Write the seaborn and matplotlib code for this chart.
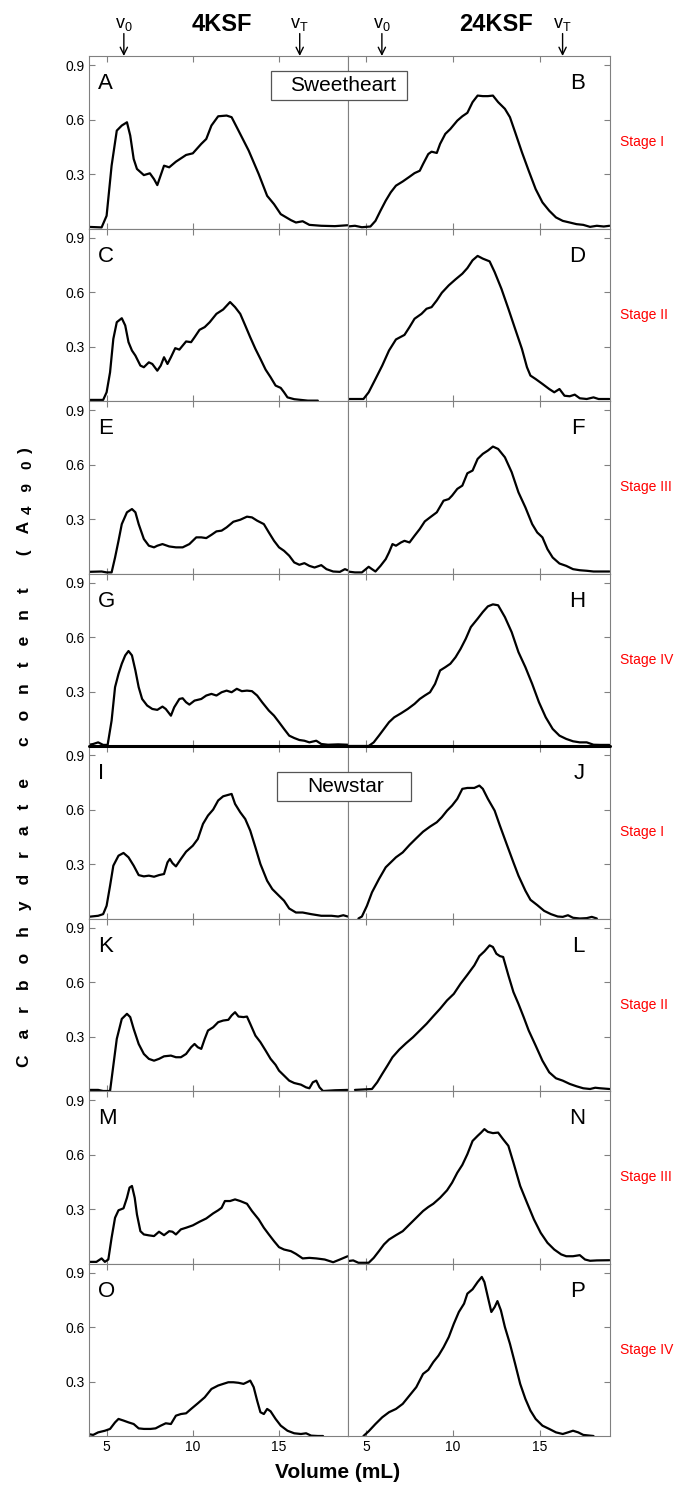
import matplotlib
matplotlib.use("Agg")
import matplotlib.pyplot as plt
import pandas as pd
import seaborn as sns
from matplotlib.patches import Rectangle
from matplotlib.lines import Line2D

# ---------------- data (elution volume, mL / absorbance A490) ----------------
A_vol = [3.92, 4.71, 5.0, 5.29, 5.59, 5.88, 6.18, 6.37, 6.57, 6.76, 7.16, 7.51, 7.75, 7.94, 8.33, 8.63, 9.02, 9.61, 10.0, 10.49, 10.78, 11.08, 11.47, 11.96, 12.25, 12.65, 13.24, 13.82, 14.31, 14.71, 15.1, 15.69, 15.98, 16.37, 16.76, 17.45, 18.24, 18.98]
A_abs = [0.009, 0.006, 0.07, 0.346, 0.539, 0.567, 0.585, 0.512, 0.383, 0.328, 0.294, 0.304, 0.272, 0.239, 0.346, 0.337, 0.368, 0.405, 0.414, 0.466, 0.493, 0.567, 0.618, 0.622, 0.613, 0.539, 0.429, 0.30, 0.18, 0.134, 0.079, 0.046, 0.033, 0.040, 0.020, 0.015, 0.013, 0.018]

B_vol = [3.92, 4.35, 4.75, 5.24, 5.53, 5.82, 6.12, 6.41, 6.71, 7.10, 7.49, 7.78, 8.08, 8.27, 8.57, 8.76, 9.06, 9.25, 9.55, 9.84, 10.24, 10.53, 10.82, 11.12, 11.41, 11.71, 12.0, 12.29, 12.59, 12.98, 13.27, 13.57, 13.96, 14.35, 14.75, 15.14, 15.53, 15.92, 16.31, 16.71, 17.10, 17.49, 17.88, 18.27, 18.67, 19.0]
B_abs = [0.011, 0.015, 0.007, 0.011, 0.042, 0.098, 0.153, 0.199, 0.236, 0.259, 0.285, 0.305, 0.318, 0.355, 0.410, 0.423, 0.416, 0.466, 0.521, 0.548, 0.594, 0.618, 0.637, 0.696, 0.732, 0.729, 0.729, 0.732, 0.696, 0.659, 0.613, 0.530, 0.420, 0.318, 0.217, 0.144, 0.098, 0.061, 0.042, 0.033, 0.024, 0.020, 0.009, 0.015, 0.011, 0.015]

C_vol = [3.92, 4.80, 5.0, 5.20, 5.39, 5.59, 5.88, 6.08, 6.27, 6.47, 6.67, 6.96, 7.16, 7.45, 7.65, 7.94, 8.14, 8.33, 8.53, 8.73, 8.98, 9.22, 9.41, 9.61, 9.90, 10.10, 10.39, 10.69, 10.98, 11.37, 11.76, 12.16, 12.45, 12.75, 13.04, 13.33, 13.63, 13.92, 14.22, 14.51, 14.80, 15.10, 15.29, 15.49, 15.88, 16.27, 16.67, 17.25]
C_abs = [0.006, 0.006, 0.048, 0.158, 0.342, 0.434, 0.456, 0.416, 0.324, 0.278, 0.250, 0.195, 0.186, 0.213, 0.204, 0.167, 0.195, 0.241, 0.204, 0.241, 0.291, 0.283, 0.305, 0.328, 0.324, 0.351, 0.392, 0.407, 0.434, 0.480, 0.504, 0.545, 0.517, 0.480, 0.416, 0.351, 0.287, 0.232, 0.173, 0.131, 0.085, 0.072, 0.048, 0.020, 0.010, 0.006, 0.002, 0.002]

D_vol = [3.92, 4.35, 4.84, 5.14, 5.53, 5.92, 6.31, 6.71, 7.20, 7.49, 7.78, 8.18, 8.47, 8.76, 9.06, 9.35, 9.75, 10.14, 10.53, 10.82, 11.12, 11.41, 11.71, 12.10, 12.39, 12.78, 13.18, 13.57, 13.96, 14.25, 14.45, 14.75, 15.14, 15.53, 15.82, 16.12, 16.41, 16.71, 17.0, 17.29, 17.69, 18.08, 18.37, 18.67, 19.0]
D_abs = [0.011, 0.011, 0.011, 0.048, 0.121, 0.195, 0.278, 0.339, 0.364, 0.407, 0.453, 0.480, 0.508, 0.517, 0.554, 0.596, 0.637, 0.670, 0.701, 0.732, 0.775, 0.799, 0.784, 0.769, 0.710, 0.618, 0.508, 0.397, 0.287, 0.186, 0.140, 0.121, 0.094, 0.066, 0.048, 0.066, 0.029, 0.026, 0.035, 0.015, 0.011, 0.020, 0.011, 0.011, 0.011]

E_vol = [3.92, 4.71, 5.0, 5.29, 5.49, 5.69, 5.88, 6.18, 6.47, 6.67, 6.86, 7.16, 7.45, 7.75, 7.94, 8.24, 8.63, 9.02, 9.41, 9.80, 10.20, 10.49, 10.78, 11.08, 11.37, 11.67, 11.96, 12.35, 12.75, 13.14, 13.43, 13.73, 14.12, 14.41, 14.71, 15.0, 15.29, 15.59, 15.88, 16.18, 16.47, 16.76, 17.06, 17.45, 17.75, 18.14, 18.53, 18.82, 18.98]
E_abs = [0.009, 0.011, 0.006, 0.006, 0.088, 0.180, 0.272, 0.337, 0.355, 0.337, 0.272, 0.190, 0.153, 0.144, 0.153, 0.162, 0.149, 0.144, 0.144, 0.162, 0.199, 0.199, 0.195, 0.213, 0.232, 0.236, 0.254, 0.285, 0.296, 0.313, 0.309, 0.291, 0.272, 0.226, 0.180, 0.144, 0.125, 0.098, 0.061, 0.048, 0.057, 0.042, 0.033, 0.046, 0.024, 0.011, 0.009, 0.024, 0.018]

F_vol = [3.92, 4.35, 4.75, 5.14, 5.33, 5.53, 5.82, 6.12, 6.31, 6.51, 6.71, 7.0, 7.20, 7.49, 7.78, 8.08, 8.37, 8.67, 9.06, 9.45, 9.75, 9.94, 10.24, 10.53, 10.82, 11.12, 11.41, 11.71, 12.0, 12.29, 12.59, 12.98, 13.37, 13.76, 14.16, 14.55, 14.84, 15.14, 15.43, 15.73, 16.12, 16.51, 16.90, 17.29, 17.69, 18.08, 18.47, 19.0]
F_abs = [0.011, 0.006, 0.006, 0.037, 0.024, 0.011, 0.042, 0.079, 0.116, 0.162, 0.153, 0.171, 0.180, 0.171, 0.208, 0.245, 0.287, 0.309, 0.337, 0.401, 0.410, 0.429, 0.466, 0.484, 0.552, 0.567, 0.631, 0.659, 0.677, 0.699, 0.686, 0.640, 0.558, 0.447, 0.364, 0.272, 0.226, 0.199, 0.134, 0.088, 0.055, 0.042, 0.024, 0.018, 0.015, 0.011, 0.011, 0.011]

G_vol = [3.92, 4.22, 4.51, 4.80, 5.06, 5.29, 5.49, 5.69, 5.88, 6.08, 6.27, 6.47, 6.67, 6.86, 7.06, 7.35, 7.65, 7.94, 8.24, 8.43, 8.73, 8.92, 9.22, 9.41, 9.61, 9.80, 10.10, 10.49, 10.78, 11.08, 11.37, 11.67, 11.96, 12.25, 12.55, 12.84, 13.14, 13.43, 13.73, 14.02, 14.41, 14.71, 15.0, 15.29, 15.59, 15.88, 16.18, 16.47, 16.76, 17.16, 17.45, 17.84, 18.43, 18.98]
G_abs = [0.006, 0.011, 0.020, 0.006, 0.006, 0.140, 0.324, 0.397, 0.453, 0.499, 0.523, 0.499, 0.416, 0.324, 0.259, 0.223, 0.204, 0.199, 0.217, 0.204, 0.167, 0.213, 0.259, 0.263, 0.241, 0.228, 0.250, 0.259, 0.278, 0.287, 0.278, 0.296, 0.305, 0.296, 0.315, 0.302, 0.305, 0.302, 0.278, 0.241, 0.195, 0.167, 0.131, 0.094, 0.057, 0.044, 0.033, 0.029, 0.020, 0.029, 0.011, 0.007, 0.009, 0.007]

H_vol = [3.92, 4.35, 5.14, 5.43, 5.73, 6.02, 6.31, 6.61, 7.0, 7.39, 7.78, 8.08, 8.37, 8.67, 8.96, 9.25, 9.55, 9.84, 10.14, 10.43, 10.73, 11.02, 11.41, 11.71, 12.0, 12.29, 12.59, 12.98, 13.37, 13.76, 14.16, 14.55, 14.94, 15.33, 15.73, 16.12, 16.51, 16.90, 17.29, 17.69, 18.08, 18.47, 19.0]
H_abs = [0.0, 0.0, 0.0, 0.020, 0.057, 0.094, 0.131, 0.158, 0.180, 0.204, 0.232, 0.259, 0.278, 0.296, 0.342, 0.416, 0.434, 0.453, 0.489, 0.535, 0.591, 0.655, 0.701, 0.738, 0.769, 0.780, 0.775, 0.710, 0.627, 0.517, 0.434, 0.342, 0.241, 0.158, 0.094, 0.057, 0.039, 0.026, 0.020, 0.020, 0.007, 0.006, 0.006]

I_vol = [3.92, 4.51, 4.80, 5.0, 5.20, 5.39, 5.69, 5.98, 6.27, 6.57, 6.86, 7.16, 7.45, 7.75, 8.04, 8.33, 8.53, 8.67, 8.82, 9.02, 9.31, 9.61, 10.0, 10.29, 10.59, 10.88, 11.18, 11.47, 11.76, 12.06, 12.25, 12.45, 12.75, 13.04, 13.33, 13.63, 13.92, 14.31, 14.61, 15.0, 15.29, 15.59, 15.98, 16.37, 16.86, 17.45, 18.04, 18.43, 18.73, 18.98]
I_abs = [0.009, 0.015, 0.024, 0.070, 0.180, 0.291, 0.346, 0.361, 0.337, 0.291, 0.239, 0.232, 0.236, 0.230, 0.239, 0.245, 0.309, 0.328, 0.305, 0.287, 0.328, 0.368, 0.401, 0.438, 0.521, 0.567, 0.600, 0.650, 0.673, 0.681, 0.686, 0.631, 0.585, 0.548, 0.484, 0.392, 0.300, 0.208, 0.162, 0.125, 0.098, 0.055, 0.033, 0.033, 0.024, 0.015, 0.015, 0.011, 0.018, 0.011]

J_vol = [4.55, 4.75, 5.04, 5.33, 5.73, 6.12, 6.41, 6.71, 7.10, 7.49, 7.88, 8.27, 8.67, 9.06, 9.35, 9.65, 9.94, 10.24, 10.53, 10.82, 11.22, 11.51, 11.71, 12.0, 12.39, 12.69, 13.08, 13.47, 13.76, 14.16, 14.45, 14.84, 15.24, 15.63, 16.02, 16.31, 16.61, 16.90, 17.29, 17.69, 17.98, 18.27]
J_abs = [0.0, 0.011, 0.070, 0.144, 0.217, 0.282, 0.309, 0.337, 0.364, 0.405, 0.442, 0.478, 0.506, 0.530, 0.558, 0.594, 0.622, 0.659, 0.714, 0.719, 0.719, 0.732, 0.714, 0.659, 0.594, 0.512, 0.410, 0.309, 0.236, 0.153, 0.103, 0.074, 0.042, 0.024, 0.011, 0.009, 0.018, 0.004, 0.0, 0.002, 0.009, 0.0]

K_vol = [3.92, 4.51, 4.80, 5.20, 5.39, 5.59, 5.88, 6.18, 6.37, 6.57, 6.86, 7.16, 7.45, 7.75, 8.04, 8.33, 8.73, 9.02, 9.31, 9.61, 9.90, 10.10, 10.29, 10.49, 10.69, 10.88, 11.18, 11.47, 11.76, 12.06, 12.25, 12.45, 12.65, 12.94, 13.14, 13.33, 13.63, 13.92, 14.22, 14.51, 14.80, 15.0, 15.29, 15.59, 15.88, 16.27, 16.57, 16.76, 16.96, 17.16, 17.35, 17.55, 18.24, 18.98]
K_abs = [0.006, 0.006, 0.0, 0.0, 0.140, 0.287, 0.397, 0.425, 0.407, 0.342, 0.259, 0.204, 0.177, 0.167, 0.177, 0.191, 0.195, 0.186, 0.186, 0.204, 0.241, 0.259, 0.241, 0.232, 0.287, 0.333, 0.351, 0.379, 0.388, 0.392, 0.416, 0.434, 0.410, 0.407, 0.410, 0.370, 0.305, 0.269, 0.223, 0.177, 0.144, 0.112, 0.085, 0.057, 0.044, 0.035, 0.020, 0.015, 0.048, 0.057, 0.020, 0.0, 0.004, 0.006]

L_vol = [4.35, 5.33, 5.63, 5.92, 6.22, 6.51, 6.90, 7.29, 7.69, 8.08, 8.47, 8.86, 9.25, 9.65, 10.04, 10.43, 10.82, 11.22, 11.51, 11.80, 12.10, 12.29, 12.49, 12.69, 12.88, 13.18, 13.47, 13.76, 14.06, 14.35, 14.75, 15.14, 15.53, 15.92, 16.31, 16.71, 17.10, 17.49, 17.88, 18.18, 18.47, 19.0]
L_abs = [0.006, 0.011, 0.048, 0.094, 0.140, 0.186, 0.228, 0.263, 0.296, 0.333, 0.370, 0.412, 0.453, 0.499, 0.535, 0.591, 0.640, 0.692, 0.743, 0.769, 0.802, 0.793, 0.756, 0.743, 0.738, 0.637, 0.545, 0.480, 0.407, 0.333, 0.250, 0.167, 0.103, 0.070, 0.057, 0.039, 0.026, 0.015, 0.011, 0.018, 0.015, 0.011]

M_vol = [3.92, 4.41, 4.71, 4.90, 5.10, 5.29, 5.49, 5.69, 5.98, 6.18, 6.33, 6.47, 6.63, 6.76, 6.96, 7.16, 7.45, 7.75, 8.04, 8.33, 8.63, 8.82, 9.02, 9.31, 9.61, 10.0, 10.39, 10.78, 11.18, 11.47, 11.67, 11.86, 12.16, 12.45, 12.75, 13.14, 13.43, 13.82, 14.12, 14.41, 14.71, 15.0, 15.29, 15.69, 15.98, 16.37, 16.76, 17.16, 17.65, 18.14, 18.53, 18.98]
M_abs = [0.009, 0.009, 0.028, 0.009, 0.022, 0.142, 0.252, 0.293, 0.304, 0.362, 0.418, 0.427, 0.362, 0.270, 0.178, 0.160, 0.155, 0.151, 0.175, 0.156, 0.178, 0.175, 0.160, 0.188, 0.197, 0.210, 0.230, 0.248, 0.276, 0.293, 0.307, 0.344, 0.344, 0.353, 0.344, 0.329, 0.289, 0.243, 0.197, 0.160, 0.123, 0.090, 0.077, 0.068, 0.053, 0.028, 0.031, 0.028, 0.022, 0.007, 0.022, 0.040]

N_vol = [3.92, 4.25, 4.55, 5.14, 5.43, 5.73, 6.02, 6.31, 6.71, 7.10, 7.49, 7.88, 8.27, 8.57, 8.86, 9.25, 9.65, 9.94, 10.24, 10.53, 10.82, 11.12, 11.41, 11.61, 11.80, 12.0, 12.29, 12.59, 12.88, 13.18, 13.47, 13.86, 14.25, 14.65, 15.04, 15.43, 15.82, 16.22, 16.51, 16.90, 17.29, 17.59, 17.88, 18.27, 19.0]
N_abs = [0.013, 0.017, 0.004, 0.004, 0.031, 0.068, 0.105, 0.132, 0.156, 0.178, 0.215, 0.252, 0.289, 0.311, 0.329, 0.362, 0.403, 0.445, 0.500, 0.543, 0.602, 0.675, 0.703, 0.721, 0.740, 0.725, 0.718, 0.721, 0.684, 0.648, 0.556, 0.427, 0.335, 0.243, 0.169, 0.114, 0.077, 0.050, 0.040, 0.040, 0.046, 0.022, 0.015, 0.017, 0.018]

O_vol = [3.92, 4.22, 4.51, 4.90, 5.20, 5.49, 5.69, 5.98, 6.27, 6.57, 6.86, 7.16, 7.55, 7.84, 8.14, 8.43, 8.73, 9.02, 9.31, 9.61, 9.90, 10.29, 10.69, 11.08, 11.47, 11.76, 12.06, 12.35, 12.65, 12.94, 13.14, 13.33, 13.53, 13.73, 13.92, 14.12, 14.31, 14.51, 14.80, 15.10, 15.49, 15.88, 16.27, 16.57, 16.86, 17.25, 17.55]
O_abs = [0.011, 0.006, 0.020, 0.029, 0.039, 0.075, 0.094, 0.085, 0.075, 0.066, 0.042, 0.039, 0.039, 0.042, 0.057, 0.070, 0.066, 0.112, 0.121, 0.125, 0.149, 0.180, 0.213, 0.259, 0.278, 0.287, 0.296, 0.296, 0.293, 0.287, 0.296, 0.305, 0.269, 0.195, 0.131, 0.121, 0.149, 0.136, 0.094, 0.057, 0.029, 0.015, 0.011, 0.015, 0.002, 0.0, 0.0]

P_vol = [4.84, 5.14, 5.53, 5.92, 6.31, 6.71, 7.10, 7.49, 7.88, 8.27, 8.57, 8.86, 9.16, 9.45, 9.75, 10.04, 10.33, 10.63, 10.82, 11.12, 11.41, 11.65, 11.80, 12.0, 12.20, 12.39, 12.55, 12.75, 12.98, 13.27, 13.57, 13.86, 14.16, 14.45, 14.75, 15.14, 15.53, 15.92, 16.31, 16.61, 16.90, 17.20, 17.49, 18.08]
P_abs = [0.0, 0.026, 0.066, 0.103, 0.131, 0.149, 0.177, 0.223, 0.269, 0.342, 0.364, 0.407, 0.443, 0.489, 0.545, 0.618, 0.683, 0.729, 0.784, 0.808, 0.848, 0.876, 0.848, 0.765, 0.683, 0.710, 0.743, 0.692, 0.600, 0.508, 0.397, 0.287, 0.204, 0.140, 0.094, 0.057, 0.039, 0.020, 0.011, 0.020, 0.029, 0.020, 0.006, 0.0]

panel_letters = list("ABCDEFGHIJKLMNOP")
stage_labels = ["Stage I", "Stage II", "Stage III", "Stage IV", "Stage I", "Stage II", "Stage III", "Stage IV"]
column_titles = ["4KSF", "24KSF"]
cultivars = ["Sweetheart", "Newstar"]
v0_marks = [6.0, 5.9]
vt_marks = [16.2, 16.3]
x_ticks = [5, 10, 15]
y_ticks = [0.3, 0.6, 0.9]
y_tick_labels = ["0.3", "0.6", "0.9"]

series = {
    "A": (A_vol, A_abs), "B": (B_vol, B_abs), "C": (C_vol, C_abs), "D": (D_vol, D_abs),
    "E": (E_vol, E_abs), "F": (F_vol, F_abs), "G": (G_vol, G_abs), "H": (H_vol, H_abs),
    "I": (I_vol, I_abs), "J": (J_vol, J_abs), "K": (K_vol, K_abs), "L": (L_vol, L_abs),
    "M": (M_vol, M_abs), "N": (N_vol, N_abs), "O": (O_vol, O_abs), "P": (P_vol, P_abs),
}
for k, (v, a) in series.items():
    assert len(v) == len(a), (k, len(v), len(a))

# ---------------- style ----------------
sns.set_theme(style="white")
plt.rcParams["font.family"] = ["Liberation Sans", "DejaVu Sans"]
plt.rcParams.update({
    "mathtext.fontset": "custom",
    "mathtext.rm": "Liberation Sans",
    "mathtext.it": "Liberation Sans:italic",
    "mathtext.bf": "Liberation Sans:bold",
    "axes.edgecolor": "#808080",
    "axes.linewidth": 0.8,
    "text.color": "black",
    "xtick.color": "#808080",
    "ytick.color": "#808080",
    "xtick.labelcolor": "black",
    "ytick.labelcolor": "black",
})

W, H = 675, 1488
fig = plt.figure(figsize=(W / 100, H / 100), dpi=100)

x_left, x_mid, x_right = 88.5, 348.0, 609.5
y_top, row_h = 56.0, 172.5
GRAY = "#808080"

axes = {}
for row in range(8):
    for col in range(2):
        x0 = x_left if col == 0 else x_mid
        x1 = x_mid if col == 0 else x_right
        top = y_top + row * row_h
        ax = fig.add_axes([x0 / W, 1 - (top + row_h) / H, (x1 - x0) / W, row_h / H])
        letter = panel_letters[row * 2 + col]
        vol, absb = series[letter]
        df = pd.DataFrame({"vol": vol, "abs": absb})
        sns.lineplot(data=df, x="vol", y="abs", ax=ax, color="black", linewidth=1.6,
                     estimator=None, sort=False, legend=False)
        for ln in ax.get_lines():
            ln.set_solid_joinstyle("round")
        ax.set_xlim(3.95, 19.0)
        ax.set_ylim(0, 0.95)
        ax.set_xticks(x_ticks)
        ax.set_yticks(y_ticks)
        ax.set_yticklabels(y_tick_labels)
        ax.set_xlabel("")
        ax.set_ylabel("")
        for sp_ in ax.spines.values():
            sp_.set_color(GRAY)
            sp_.set_linewidth(0.8)
        ax.tick_params(axis="both", direction="in", length=4, width=0.8, color=GRAY,
                       labelsize=10, pad=3)
        ax.tick_params(axis="x", top=True, bottom=True, labelbottom=(row == 7), labeltop=False)
        ax.tick_params(axis="y", left=(col == 0), right=(col == 1),
                       labelleft=(col == 0), labelright=False)
        if col == 0:
            ax.text(0.038, 0.90, letter, transform=ax.transAxes, fontsize=16,
                    ha="left", va="top")
        else:
            ax.text(0.906, 0.90, letter, transform=ax.transAxes, fontsize=16,
                    ha="right", va="top")
            ax.text(1.04, 0.5, stage_labels[row], transform=ax.transAxes, fontsize=10,
                    color="red", ha="left", va="center")
        axes[(row, col)] = ax

# ---------------- header: column titles and void / total volume arrows ----------------
title_pos = [0.5125, 0.565]
for col in range(2):
    ax = axes[(0, col)]
    tr = ax.get_xaxis_transform()
    for v, lab in [(v0_marks[col], r"v$_\mathrm{0}$"), (vt_marks[col], r"v$_\mathrm{T}$")]:
        ax.annotate("", xy=(v, 1.0), xycoords=tr, xytext=(v, 1.13), textcoords=tr,
                    arrowprops=dict(arrowstyle="->", color="black", lw=1.0,
                                    shrinkA=0, shrinkB=0, mutation_scale=13),
                    annotation_clip=False)
        ax.text(v, 1.135, lab, transform=tr, ha="center", va="bottom", fontsize=13)
    ax.text(title_pos[col], 1.18, column_titles[col], transform=ax.transAxes,
            ha="center", va="center", fontsize=17, fontweight="bold")

# ---------------- cultivar boxes ----------------
box_specs = [((271, 71, 407, 100), (343.5, 85.5)), ((276.5, 772, 411, 801), (346, 786.5))]
for name, ((bx0, by0, bx1, by1), (tx, ty)) in zip(cultivars, box_specs):
    rect = Rectangle((bx0 / W, 1 - by1 / H), (bx1 - bx0) / W, (by1 - by0) / H,
                     transform=fig.transFigure, facecolor="white", edgecolor="#555555",
                     linewidth=0.9, zorder=5)
    fig.add_artist(rect)
    fig.text(tx / W, 1 - ty / H, name, ha="center", va="center", fontsize=15, zorder=6)

# thick separator between the two cultivars
ysep = 1 - (y_top + 4 * row_h) / H
fig.add_artist(Line2D([x_left / W, x_right / W], [ysep, ysep], transform=fig.transFigure,
                      color="black", linewidth=2.2, zorder=4))

# ---------------- axis labels ----------------
gap = "\u2002\u2005\u2006"
ylab_main = (gap.join("Carbohydrate") + gap * 2 + gap.join("content") + gap * 2 + "("
             + gap + "A")
ylab_sub = gap.join("490")
ylab_end = ")"
fam = ["Liberation Sans", "DejaVu Sans"]
t_main = fig.text(0, 0, ylab_main, rotation=90, ha="center", va="bottom",
                  fontsize=12.5, fontweight="bold", family=fam)
t_sub = fig.text(0, 0, ylab_sub, rotation=90, ha="center", va="bottom",
                 fontsize=11, fontweight="bold", family=fam)
t_end = fig.text(0, 0, ylab_end, rotation=90, ha="center", va="bottom",
                 fontsize=12.5, fontweight="bold", family=fam)
renderer = fig.canvas.get_renderer()
h_main = t_main.get_window_extent(renderer).height
h_sub = t_sub.get_window_extent(renderer).height
h_end = t_end.get_window_extent(renderer).height
pad_px = 7
total = h_main + h_sub + h_end + 2 * pad_px
yc_px = H - 757
xc_px = 25
start = yc_px - total / 2
t_main.set_position((xc_px / W, start / H))
t_sub.set_position(((xc_px + 3) / W, (start + h_main + pad_px) / H))
t_end.set_position((xc_px / W, (start + h_main + h_sub + 2 * pad_px) / H))

fig.text(338 / W, 1 - 1472 / H, "Volume (mL)", ha="center", va="center",
         fontsize=15, fontweight="bold")

fig.savefig("out.png", dpi=100)
